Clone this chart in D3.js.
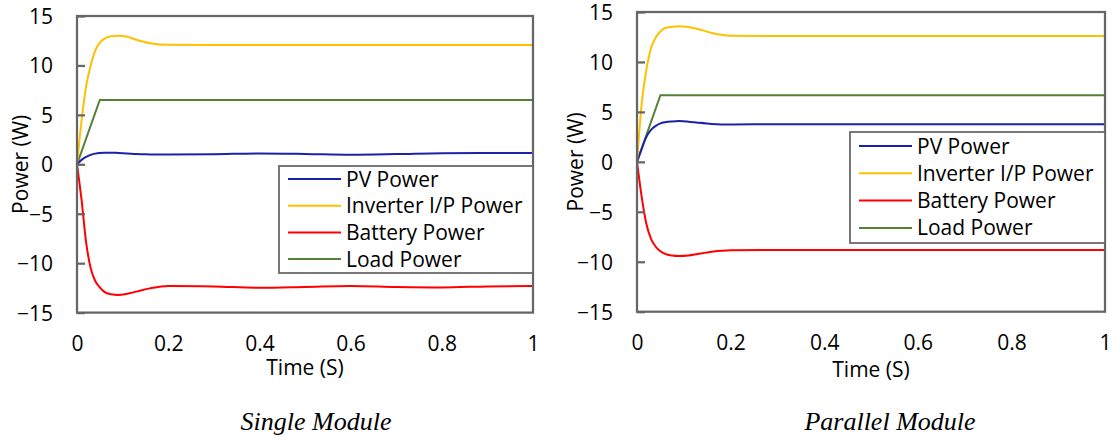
<!DOCTYPE html>
<html lang="en">
<head>
<meta charset="utf-8">
<title>Power - single and parallel module</title>
<script src="https://d3js.org/d3.v7.min.js"></script>
<style>
  body { margin: 0; background: #fff; }
  text { font-family: "Open Sans", sans-serif; fill: #000; }
  .caption { font-family: "Liberation Serif", "Times New Roman", serif; font-style: italic; }
</style>
</head>
<body>
<script>
// ---- data ----
var seriesNames = ['PV Power', 'Inverter I/P Power', 'Battery Power', 'Load Power'];
var seriesColors = ['#1c22a8', '#ffc000', '#ff0000', '#548235'];
var yTicks = [-15, -10, -5, 0, 5, 10, 15];
var xTicks = [0, 0.2, 0.4, 0.6, 0.8, 1];

var time = [0, 0.01, 0.02, 0.03, 0.04, 0.05, 0.06, 0.075, 0.09, 0.11, 0.13, 0.16, 0.2,
            0.3, 0.4, 0.5, 0.6, 0.7, 0.8, 0.9, 1];
var loadTime = [0, 0.05, 1];

// Single module
var singlePV       = [0, 0.45, 0.75, 0.95, 1.08, 1.15, 1.18, 1.18, 1.15, 1.1, 1.03, 1.0, 0.98,
                      1.02, 1.1, 1.05, 0.97, 1.03, 1.12, 1.14, 1.15];
var singleInverter = [0, 4.4, 7.9, 10.0, 11.5, 12.3, 12.7, 12.95, 13.0, 12.9, 12.6, 12.25, 12.08,
                      12.07, 12.07, 12.07, 12.07, 12.07, 12.07, 12.07, 12.07];
var singleBattery  = [0, -3.6, -7.9, -10.5, -11.8, -12.45, -12.9, -13.15, -13.22, -13.1, -12.88, -12.55, -12.3,
                      -12.35, -12.48, -12.4, -12.3, -12.4, -12.45, -12.35, -12.3];
var singleLoad     = [0, 6.5, 6.5];

// Parallel module
var parallelPV       = [0, 1.3, 2.5, 3.2, 3.6, 3.85, 3.97, 4.05, 4.08, 4.02, 3.92, 3.8, 3.75,
                        3.76, 3.76, 3.76, 3.76, 3.76, 3.76, 3.76, 3.76];
var parallelInverter = [0, 5.8, 9.2, 11.4, 12.45, 13.05, 13.4, 13.52, 13.57, 13.5, 13.3, 12.9, 12.62,
                        12.6, 12.6, 12.6, 12.6, 12.6, 12.6, 12.6, 12.6];
var parallelBattery  = [0, -3.5, -6.2, -7.7, -8.5, -8.95, -9.22, -9.38, -9.43, -9.38, -9.22, -9.0, -8.85,
                        -8.83, -8.83, -8.83, -8.83, -8.83, -8.83, -8.83, -8.83];
var parallelLoad     = [0, 6.67, 6.67];

var w = 1114, h = 441;
var svg = d3.select('body').append('svg')
    .attr('width', w)
    .attr('height', h);

function pairs(xs, ys) {
  return xs.map(function(x, i) { return [x, ys[i]]; });
}

function drawPanel(cfg) {
  var x = d3.scaleLinear().domain([0, 1]).range([cfg.left, cfg.right]);
  var y = d3.scaleLinear().domain([-15, 15]).range([cfg.bottom, cfg.top]);
  var g = svg.append('g');

  var line = d3.line()
      .x(function(d) { return x(d[0]); })
      .y(function(d) { return y(d[1]); })
      .curve(d3.curveMonotoneX);
  var straight = d3.line()
      .x(function(d) { return x(d[0]); })
      .y(function(d) { return y(d[1]); });

  var lines = [
    {name: seriesNames[0], pts: pairs(time, cfg.pv), gen: line},
    {name: seriesNames[1], pts: pairs(time, cfg.inverter), gen: line},
    {name: seriesNames[2], pts: pairs(time, cfg.battery), gen: line},
    {name: seriesNames[3], pts: pairs(loadTime, cfg.load), gen: straight}
  ];

  // draw load first so the rest sit on top like the original
  [3, 2, 0, 1].forEach(function(i) {
    g.append('path')
      .attr('d', lines[i].gen(lines[i].pts))
      .attr('fill', 'none')
      .attr('stroke', seriesColors[i])
      .attr('stroke-width', 2);
  });

  // y axis with inward ticks
  var yAxis = d3.axisLeft(y).tickValues(yTicks).tickSize(-8).tickPadding(cfg.yPad);
  var ya = g.append('g')
      .attr('transform', 'translate(' + cfg.left + ',0)')
      .call(yAxis);
  ya.select('.domain').remove();
  ya.selectAll('line').attr('stroke', '#666').attr('stroke-width', 2.25);
  ya.selectAll('text').style('font-size', '21px').attr('dy', '0.36em');

  var xAxis = d3.axisBottom(x).tickValues(xTicks).tickSize(0)
      .tickFormat(function(d) { return d === 0 || d === 1 ? String(d) : d3.format('.1f')(d); });
  var xa = g.append('g')
      .attr('transform', 'translate(0,' + cfg.bottom + ')')
      .call(xAxis);
  xa.select('.domain').remove();
  xa.selectAll('text').style('font-size', '21px').attr('dy', null).attr('y', cfg.xLabY);

  // frame
  g.append('rect')
    .attr('x', cfg.left).attr('y', cfg.top)
    .attr('width', cfg.right - cfg.left).attr('height', cfg.bottom - cfg.top)
    .attr('fill', 'none').attr('stroke', '#666').attr('stroke-width', 2.25);

  // axis titles
  g.append('text')
    .attr('x', (cfg.left + cfg.right) / 2).attr('y', cfg.xTitleY)
    .attr('text-anchor', 'middle').style('font-size', '21px')
    .text('Time (S)');
  g.append('text')
    .attr('transform', 'translate(' + cfg.yTitleX + ',' + y(0) + ') rotate(-90)')
    .attr('text-anchor', 'middle').style('font-size', '21px')
    .text('Power (W)');

  // legend
  var lg = g.append('g').attr('transform', 'translate(' + cfg.legX + ',' + cfg.legY + ')');
  lg.append('rect')
    .attr('width', cfg.right - cfg.legX).attr('height', cfg.legH)
    .attr('fill', '#fff').attr('stroke', '#666').attr('stroke-width', 1.75);
  var item = lg.selectAll('.item')
      .data(seriesNames)
    .enter().append('g')
      .attr('class', 'item')
      .attr('transform', function(d, i) { return 'translate(0,' + (cfg.legRow0 + i * cfg.legStep) + ')'; });
  item.append('line')
    .attr('x1', 9).attr('x2', 62)
    .attr('stroke', function(d, i) { return seriesColors[i]; })
    .attr('stroke-width', 2);
  item.append('text')
    .attr('x', 67).attr('dy', '0.36em')
    .style('font-size', '21px')
    .text(function(d) { return d; });

  svg.append('text')
    .attr('class', 'caption')
    .attr('x', cfg.capX).attr('y', 430)
    .attr('text-anchor', 'middle').style('font-size', '26px')
    .text(cfg.caption);
}

drawPanel({
  left: 77, right: 533, top: 16, bottom: 312.6,
  pv: singlePV, inverter: singleInverter, battery: singleBattery, load: singleLoad,
  yPad: 24, xLabY: 38, xTitleY: 375, yTitleX: 28,
  legX: 279, legY: 166, legH: 107, legRow0: 13, legStep: 26.7,
  capX: 316, caption: 'Single Module'
});

drawPanel({
  left: 637, right: 1105, top: 12, bottom: 311.7,
  pv: parallelPV, inverter: parallelInverter, battery: parallelBattery, load: parallelLoad,
  yPad: 24, xLabY: 38, xTitleY: 377, yTitleX: 583,
  legX: 850, legY: 132, legH: 111, legRow0: 14, legStep: 27.3,
  capX: 890, caption: 'Parallel Module'
});
</script>
</body>
</html>
